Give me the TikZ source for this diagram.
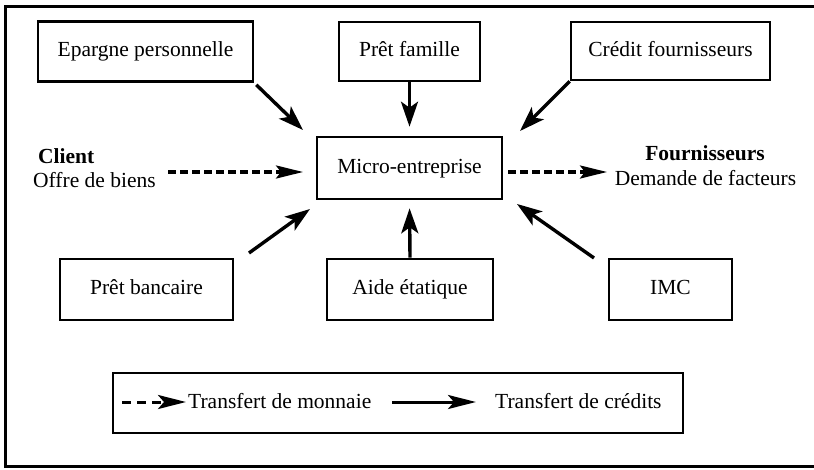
\documentclass[tikz,border=0pt]{standalone}
\usepackage{fontspec}
\setmainfont{Liberation Serif}
\usetikzlibrary{arrows.meta}
\begin{document}
\begin{tikzpicture}[x=1pt,y=-1pt,
  txt/.style={inner sep=0pt, font=\fontsize{21.5}{25}\selectfont},
  box/.style={txt, draw, line width=2.6pt, text height=15pt, text depth=5pt},
  flow/.style={line width=3.4pt, -{Stealth[length=25pt,width=17pt,inset=6pt]}},
  money/.style={line width=3.2pt, dash pattern=on 8pt off 4pt, -{Stealth[length=27pt,width=13pt,inset=5pt]}},
  legsolid/.style={line width=3pt, -{Stealth[length=28pt,width=14pt,inset=6pt]}},
  legdash/.style={line width=3pt, dash pattern=on 9pt off 6pt, -{Stealth[length=28pt,width=14pt,inset=6pt]}}]
\useasboundingbox (0,0) rectangle (814,469);
\draw[line width=3pt] (5,6) rectangle (822,466);

% boxes
\node[box, minimum width=215pt, minimum height=60pt] (ep) at (145.5,51.5) {Epargne personnelle};
\node[box, minimum width=141pt, minimum height=59pt] (pf) at (409.5,51.5) {Prêt famille};
\node[box, minimum width=199pt, minimum height=58pt] (cf) at (670.5,51) {Crédit fournisseurs};
\node[box, minimum width=185pt, minimum height=62pt] (me) at (409.5,168) {Micro-entreprise};
\node[box, minimum width=173pt, minimum height=61pt] (pb) at (146.5,289.5) {Prêt bancaire};
\node[box, minimum width=166pt, minimum height=61pt] (ae) at (410,289.5) {Aide étatique};
\node[box, minimum width=123pt, minimum height=61pt] (imc) at (670.5,289.5) {IMC};

% side labels
\node[txt, anchor=base west, font=\fontsize{21.5}{25}\selectfont\bfseries] (cl) at (38,163) {Client};
\node[txt, anchor=base west] (ob) at (33,187) {Offre de biens};
\node[txt, anchor=base, font=\fontsize{21.5}{25}\selectfont\bfseries] (fo) at (705,160) {Fournisseurs};
\node[txt, anchor=base] (df) at (705.5,185) {Demande de facteurs};

% arrow end points
\coordinate (epTip) at (303,130);
\coordinate (cfTip) at (520,131);
\coordinate (pbStart) at (249,253);
\coordinate (pbTip) at (310,209);
\coordinate (imcStart) at (594,258);
\coordinate (imcTip) at (517,204);
\coordinate (clStart) at (168,172);
\coordinate (clTip) at (303,172);
\coordinate (foStart) at (508,172);
\coordinate (foTip) at (607,172);

\draw[flow] ([shift={(2,2)}]ep.south east) -- (epTip);
\draw[flow, shorten >=9pt] (pf.south) -- (me.north);
\draw[flow] (cf.south west) -- (cfTip);
\draw[flow] (pbStart) -- (pbTip);
\draw[flow, shorten >=8pt] (ae.north) -- (me.south);
\draw[flow] (imcStart) -- (imcTip);
\draw[money] (clStart) -- (clTip);
\draw[money] (foStart) -- (foTip);

% legend
\node[box, minimum width=570pt, minimum height=60pt] (leg) at (398,403) {};
\coordinate (l1s) at (122,402);
\coordinate (l1e) at (186,402);
\coordinate (l2s) at (392,402);
\coordinate (l2e) at (476,402);
\draw[legdash] (l1s) -- (l1e);
\node[txt, anchor=base west] (t1) at (188,408) {Transfert de monnaie};
\draw[legsolid] (l2s) -- (l2e);
\node[txt, anchor=base west] (t2) at (495,408) {Transfert de crédits};
\end{tikzpicture}
\end{document}
